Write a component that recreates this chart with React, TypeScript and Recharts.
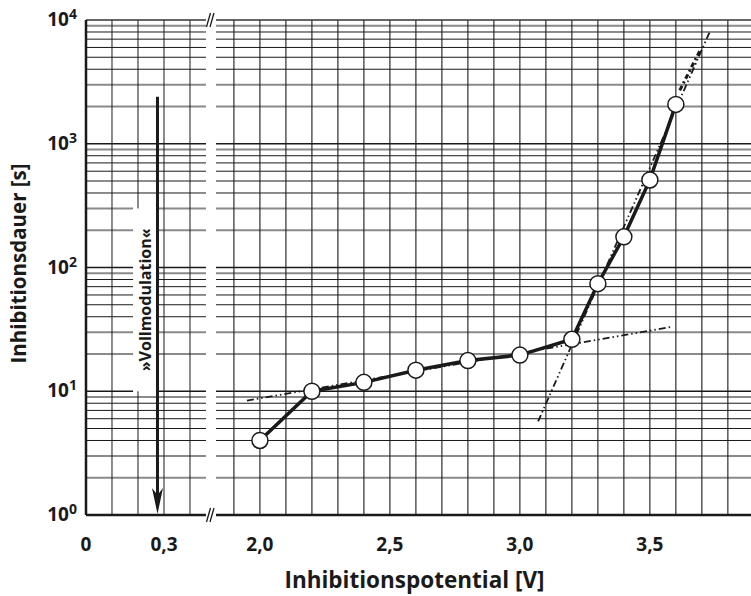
import { ComposedChart, Line, XAxis, YAxis, ReferenceLine } from "recharts";

// measured points: inhibition potential [V] vs. inhibition duration [s]
const voltage = [2.0, 2.2, 2.4, 2.6, 2.8, 3.0, 3.2, 3.3, 3.4, 3.5, 3.6];
const duration = [4, 10, 11.8, 14.8, 17.7, 19.6, 26.3, 74, 177, 510, 2080];

// fitted straight lines (dash-dot)
const flatFitV = [1.95, 3.58];
const flatFitT = [8.4, 33];
const steepFitV = [3.07, 3.73];
const steepFitT = [5.7, 8000];
const steepTailV = [3.615, 3.695];
const steepTailT = [2700, 5800];

// axes
const xTickV = [0, 0.3, 2.0, 2.5, 3.0, 3.5];
const xTickLabels = ["0", "0,3", "2,0", "2,5", "3,0", "3,5"];
const yTicks = [1, 10, 100, 1000, 10000];
const yExponents = ["0", "1", "2", "3", "4"];
const leftGridV = [0.1, 0.2, 0.3, 0.4];
const rightGridV = [1.9, 2.0, 2.1, 2.2, 2.3, 2.4, 2.5, 2.6, 2.7, 2.8, 2.9, 3.0, 3.1, 3.2, 3.3, 3.4, 3.5, 3.6, 3.7, 3.8];

// broken x axis: the right block is shifted so 2.0 V follows 0.46 V
const SHIFT = 1.331;
const toU = (v: number) => (v >= 1 ? v - SHIFT : v);
const U_MAX = 2.558;
const LEFT_END = 0.4615;
const RIGHT_START = 0.5;
const BOX_X = [0.181, 0.275]; // white box behind the "Vollmodulation" label
const BOX_Y = [10, 300];

const INK = "#1a1a1a";
const FONT = "'Open Sans', 'Noto Sans', sans-serif";

const series = voltage.map((v, i) => ({ u: toU(v), t: duration[i] }));
const flatFit = flatFitV.map((v, i) => ({ u: toU(v), t: flatFitT[i] }));
const steepFit = steepFitV.map((v, i) => ({ u: toU(v), t: steepFitT[i] }));
const steepTail = steepTailV.map((v, i) => ({ u: toU(v), t: steepTailT[i] }));

const hValues: number[] = [];
for (let d = 0; d < 4; d++) {
  for (let m = 1; m <= 9; m++) {
    if (d === 0 && m === 1) continue;
    hValues.push(m * Math.pow(10, d));
  }
}

function hStyle(y: number) {
  const m = Math.round(y / Math.pow(10, Math.floor(Math.log10(y) + 1e-9)));
  if (m === 1) return { stroke: INK, strokeWidth: 1.5 };
  if (m === 2 || m === 3 || m === 9) return { stroke: "#8a8a8a", strokeWidth: 2 };
  return { stroke: INK, strokeWidth: 1 };
}

function hSegments(y: number): [number, number][] {
  if (y >= BOX_Y[0] && y <= BOX_Y[1]) {
    return [
      [0, BOX_X[0]],
      [BOX_X[1], LEFT_END],
      [RIGHT_START, U_MAX],
    ];
  }
  return [
    [0, LEFT_END],
    [RIGHT_START, U_MAX],
  ];
}

const XTick = (props: any) => {
  const { x, y, payload } = props;
  const i = xTickV.findIndex((v) => Math.abs(toU(v) - payload.value) < 1e-6);
  return (
    <text x={x} y={y + 34} textAnchor="middle" fontFamily={FONT} fontWeight={700} fontSize={19} fill={INK}>
      {xTickLabels[i]}
    </text>
  );
};

const YTick = (props: any) => {
  const { x, y, payload } = props;
  const i = yTicks.indexOf(payload.value);
  return (
    <text x={x - 7} y={y + 6} textAnchor="end" fontFamily={FONT} fontWeight={700} fontSize={19} fill={INK}>
      10
      <tspan dy={-7} fontSize={14}>
        {yExponents[i]}
      </tspan>
    </text>
  );
};

const BreakMark = (props: any) => {
  const mx = (props.x1 + props.x2) / 2;
  const my = props.y1;
  return (
    <g stroke={INK} strokeWidth={1.3}>
      <line x1={mx - 4.5} y1={my + 7} x2={mx - 0.5} y2={my - 7} />
      <line x1={mx - 1} y1={my + 7} x2={mx + 3} y2={my - 7} />
    </g>
  );
};

const Arrow = (props: any) => {
  const { x1, y1, x2, y2 } = props;
  return (
    <g>
      <line x1={x1} y1={y1} x2={x2} y2={y2 - 20} stroke={INK} strokeWidth={3} />
      <path d={`M${x2 - 5.5},${y2 - 27} L${x2},${y2 - 20} L${x2 + 5.5},${y2 - 27} L${x2},${y2 - 1} Z`} fill={INK} />
    </g>
  );
};

const ArrowLabel = (props: any) => {
  const cx = (props.x1 + props.x2) / 2;
  const cy = (props.y1 + props.y2) / 2;
  return (
    <text
      x={cx}
      y={cy}
      transform={`rotate(-90 ${cx} ${cy})`}
      textAnchor="middle"
      dominantBaseline="central"
      fontFamily={FONT}
      fontWeight={700}
      fontSize={16}
      fill={INK}
    >
      »Vollmodulation«
    </text>
  );
};

const YTitle = (props: any) => {
  const vb = props.viewBox;
  const cx = vb.x + 18;
  const cy = vb.y + vb.height / 2 - 4;
  return (
    <text
      x={cx}
      y={cy}
      transform={`rotate(-90 ${cx} ${cy})`}
      textAnchor="middle"
      dominantBaseline="central"
      fontFamily={FONT}
      fontWeight={700}
      fontSize={20.5}
      fill={INK}
    >
      Inhibitionsdauer [s]
    </text>
  );
};

const XTitle = (props: any) => {
  const vb = props.viewBox;
  return (
    <text
      x={vb.x + vb.width / 2 - 4}
      y={vb.y + 73}
      textAnchor="middle"
      fontFamily={FONT}
      fontWeight={700}
      fontSize={22.5}
      fill={INK}
    >
      Inhibitionspotential [V]
    </text>
  );
};

export default function App() {
  return (
    <div style={{ position: "absolute", left: 0, top: 0, width: 751, height: 596, background: "#fff" }}>
      <ComposedChart width={751} height={596} margin={{ top: 20, right: 0, left: 0, bottom: 0 }}>
        <XAxis
          type="number"
          dataKey="u"
          domain={[0, U_MAX]}
          allowDataOverflow
          ticks={xTickV.map(toU)}
          tick={<XTick />}
          tickLine={false}
          tickSize={0}
          axisLine={false}
          height={81}
          label={<XTitle />}
        />
        <YAxis
          type="number"
          dataKey="t"
          scale="log"
          domain={[1, 10000]}
          allowDataOverflow
          ticks={yTicks}
          tick={<YTick />}
          tickLine={false}
          tickSize={0}
          axisLine={{ stroke: INK, strokeWidth: 2.5 }}
          width={86}
          label={<YTitle />}
        />

        {hValues.map((y) =>
          hSegments(y).map(([a, b], k) => (
            <ReferenceLine
              key={`h-${y}-${k}`}
              segment={[
                { x: a, y },
                { x: b, y },
              ]}
              {...hStyle(y)}
              ifOverflow="visible"
            />
          ))
        )}
        {leftGridV.map((v) =>
          (v === 0.2
            ? [
                [1, BOX_Y[0]],
                [BOX_Y[1], 10000],
              ]
            : [[1, 10000]]
          ).map(([a, b], k) => (
            <ReferenceLine
              key={`vl-${v}-${k}`}
              segment={[
                { x: toU(v), y: a },
                { x: toU(v), y: b },
              ]}
              stroke={INK}
              strokeWidth={1}
              ifOverflow="visible"
            />
          ))
        )}
        {rightGridV.map((v) => (
          <ReferenceLine
            key={`vr-${v}`}
            segment={[
              { x: toU(v), y: 1 },
              { x: toU(v), y: 10000 },
            ]}
            stroke={INK}
            strokeWidth={1.1}
            ifOverflow="visible"
          />
        ))}

        {/* frame with axis break */}
        {[
          [0, LEFT_END],
          [RIGHT_START, U_MAX],
        ].map(([a, b], k) => (
          <ReferenceLine
            key={`top-${k}`}
            segment={[
              { x: a, y: 10000 },
              { x: b, y: 10000 },
            ]}
            stroke="#333"
            strokeWidth={1.5}
            ifOverflow="visible"
          />
        ))}
        {[
          [0, LEFT_END],
          [RIGHT_START, U_MAX],
        ].map(([a, b], k) => (
          <ReferenceLine
            key={`bot-${k}`}
            segment={[
              { x: a, y: 1 },
              { x: b, y: 1 },
            ]}
            stroke={INK}
            strokeWidth={2.5}
            ifOverflow="visible"
          />
        ))}
        <ReferenceLine
          segment={[
            { x: LEFT_END, y: 1 },
            { x: RIGHT_START, y: 1 },
          ]}
          shape={<BreakMark />}
          ifOverflow="visible"
        />
        <ReferenceLine
          segment={[
            { x: LEFT_END, y: 10000 },
            { x: RIGHT_START, y: 10000 },
          ]}
          shape={<BreakMark />}
          ifOverflow="visible"
        />

        {/* Vollmodulation arrow */}
        <ReferenceLine
          segment={[
            { x: 0.275, y: 2400 },
            { x: 0.275, y: 1 },
          ]}
          shape={<Arrow />}
          ifOverflow="visible"
        />
        <ReferenceLine
          segment={[
            { x: 0.227, y: 300 },
            { x: 0.227, y: 10 },
          ]}
          shape={<ArrowLabel />}
          ifOverflow="visible"
        />

        <Line
          data={flatFit}
          dataKey="t"
          stroke={INK}
          strokeWidth={1.8}
          strokeDasharray="7 3 1.5 3 1.5 3"
          dot={false}
          isAnimationActive={false}
        />
        <Line
          data={steepFit}
          dataKey="t"
          stroke={INK}
          strokeWidth={1.8}
          strokeDasharray="7 3 1.5 3 1.5 3"
          dot={false}
          isAnimationActive={false}
        />
        <Line
          data={steepTail}
          dataKey="t"
          stroke={INK}
          strokeWidth={3}
          strokeDasharray="5 3 2 3"
          dot={false}
          isAnimationActive={false}
        />
        <Line
          data={series}
          dataKey="t"
          stroke={INK}
          strokeWidth={3.5}
          dot={{ r: 8, fill: "#fff", stroke: INK, strokeWidth: 1.5 }}
          isAnimationActive={false}
        />
      </ComposedChart>
    </div>
  );
}
